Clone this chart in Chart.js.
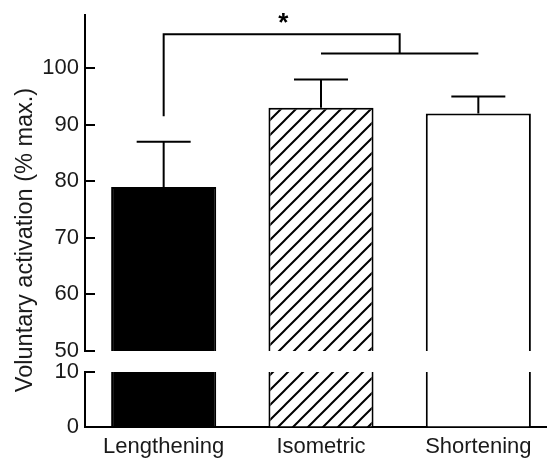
<!DOCTYPE html>
<html lang="en">
  <head>
    <meta charset="UTF-8" />
    <title>Voluntary activation</title>
    <style>
      html, body {
        margin: 0;
        padding: 0;
        background: #fff;
        overflow: hidden;
        font-family: "Liberation Sans", Arial, sans-serif;
      }
      .wrap {
        position: relative;
        width: 547px;
        height: 458px;
        overflow: hidden;
      }
      canvas {
        position: absolute;
        left: 0;
        top: 0;
      }
      .ytitle {
        position: absolute;
        left: -176px;
        top: 226px;
        width: 400px;
        line-height: 28px;
        text-align: center;
        font-size: 23.5px;
        color: #1a1a1a;
        transform: rotate(-90deg);
        white-space: nowrap;
      }
    </style>
  </head>
  <body>
    <div class="wrap">
      <canvas id="topChart" width="557" height="458"></canvas>
      <canvas id="bottomChart" width="557" height="458"></canvas>
      <div class="ytitle">Voluntary activation (% max.)</div>
    </div>

    <script src="https://cdn.jsdelivr.net/npm/chart.js"></script>
    <script>
      // data
      const categories = ["Lengthening", "Isometric", "Shortening"];
      const activation = [79, 93, 92];
      const errorUp = [8, 5, 3];
      const topTicks = [50, 60, 70, 80, 90, 100];
      const bottomTicks = [0, 5, 10];
      const bottomLabels = [0, 10];

      // significance bracket (in data units): Lengthening vs the other two
      const sigStart = 91.5;
      const sigTop = 106;
      const sigLow = 102.6;

      const font = { family: "'Liberation Sans', Arial, sans-serif", size: 22 };
      const textColor = "#1a1a1a";

      function hatchPattern(ctx) {
        const c = document.createElement("canvas");
        c.width = 15;
        c.height = 15;
        const g = c.getContext("2d");
        g.fillStyle = "#fff";
        g.fillRect(0, 0, 15, 15);
        g.strokeStyle = "#000";
        g.lineWidth = 2;
        g.beginPath();
        g.moveTo(-2, 17);
        g.lineTo(17, -2);
        g.moveTo(-2, 2);
        g.lineTo(2, -2);
        g.moveTo(13, 17);
        g.lineTo(17, 13);
        g.stroke();
        return ctx.createPattern(c, "repeat");
      }

      // small ticks pointing into the plot
      const inwardTicks = {
        id: "inwardTicks",
        afterDraw(chart) {
          const s = chart.scales.y;
          const ctx = chart.ctx;
          const left = chart.chartArea.left;
          ctx.save();
          ctx.strokeStyle = "#000";
          ctx.lineWidth = 2;
          s.ticks.forEach((t) => {
            const y = Math.round(s.getPixelForValue(t.value));
            const len = t.label === "" ? 5 : 10;
            ctx.beginPath();
            ctx.moveTo(left, y);
            ctx.lineTo(left + len, y);
            ctx.stroke();
          });
          ctx.restore();
        },
      };

      // error bars + significance bracket
      const extras = {
        id: "extras",
        afterDatasetsDraw(chart) {
          const x = chart.scales.x;
          const y = chart.scales.y;
          const ctx = chart.ctx;
          ctx.save();
          ctx.strokeStyle = "#000";
          ctx.lineWidth = 2;
          activation.forEach((v, i) => {
            const cx = x.getPixelForValue(i);
            const y0 = y.getPixelForValue(v);
            const y1 = y.getPixelForValue(v + errorUp[i]);
            ctx.beginPath();
            ctx.moveTo(cx, y0);
            ctx.lineTo(cx, y1);
            ctx.moveTo(cx - 27, y1);
            ctx.lineTo(cx + 27, y1);
            ctx.stroke();
          });

          const xa = x.getPixelForValue(0);
          const xm = x.getPixelForValue(1.5);
          const yTop = y.getPixelForValue(sigTop);
          ctx.beginPath();
          ctx.moveTo(xa, y.getPixelForValue(sigStart));
          ctx.lineTo(xa, yTop);
          ctx.lineTo(xm, yTop);
          ctx.lineTo(xm, y.getPixelForValue(sigLow));
          ctx.moveTo(x.getPixelForValue(1), y.getPixelForValue(sigLow));
          ctx.lineTo(x.getPixelForValue(2), y.getPixelForValue(sigLow));
          ctx.stroke();

          ctx.fillStyle = "#000";
          ctx.font = "bold 26px 'Liberation Sans', Arial, sans-serif";
          ctx.textAlign = "center";
          ctx.textBaseline = "alphabetic";
          ctx.fillText("*", x.getPixelForValue(0.76), yTop - 3);
          ctx.restore();
        },
      };

      function makeChart(id, opts) {
        const ctx = document.getElementById(id).getContext("2d");
        const fills = ["#000", hatchPattern(ctx), "#fff"];
        return new Chart(ctx, {
          type: "bar",
          data: {
            labels: categories,
            datasets: [
              {
                data: activation,
                backgroundColor: fills,
                borderColor: "#000",
                borderWidth: 2,
                borderSkipped: "bottom",
                barPercentage: 0.668,
                categoryPercentage: 1,
              },
            ],
          },
          options: {
            responsive: false,
            animation: false,
            devicePixelRatio: 1,
            layout: { padding: opts.padding },
            plugins: {
              legend: { display: false },
              tooltip: { enabled: false },
            },
            scales: {
              x: {
                display: opts.showX,
                grid: { display: true, drawOnChartArea: false, drawTicks: false },
                border: { color: "#000", width: 2 },
                ticks: { font: font, color: textColor, padding: 7, maxRotation: 0 },
                afterFit: (s) => {
                  s.height = opts.showX ? 31 : 0;
                },
              },
              y: {
                min: opts.min,
                max: opts.max,
                grid: { display: true, drawOnChartArea: false, drawTicks: false },
                border: { color: "#000", width: 2 },
                ticks: {
                  font: font,
                  color: textColor,
                  padding: 6,
                  callback: opts.label,
                },
                afterBuildTicks: (s) => {
                  s.ticks = opts.ticks.map((v) => ({ value: v }));
                },
                afterFit: (s) => {
                  s.width = 85;
                  s.paddingTop = 0;
                  s.paddingBottom = 0;
                },
              },
            },
          },
          plugins: opts.plugins,
        });
      }

      // upper part of the broken axis: 50 - 109
      makeChart("topChart", {
        min: 50,
        max: 109.4,
        ticks: topTicks,
        showX: false,
        padding: { top: 15, bottom: 107, left: 0, right: 0 },
        label: (v) => String(v),
        plugins: [inwardTicks, extras],
      });

      // lower part: 0 - 10
      makeChart("bottomChart", {
        min: 0,
        max: 10,
        ticks: bottomTicks,
        showX: true,
        padding: { top: 372, bottom: 0, left: 0, right: 0 },
        label: (v) => (bottomLabels.includes(v) ? String(v) : ""),
        plugins: [inwardTicks],
      });
    </script>
  </body>
</html>
